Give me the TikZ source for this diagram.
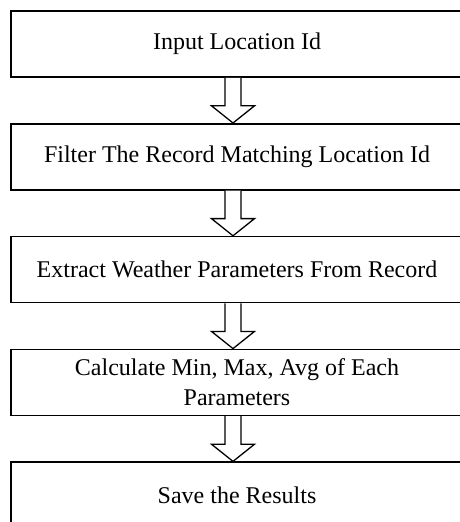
\documentclass[tikz,border=0pt]{standalone}
\usepackage{fontspec}
\setmainfont{Liberation Serif}
\usetikzlibrary{positioning,calc}
\begin{document}
\begin{tikzpicture}
    [stepbox/.style={draw=black,line width=1.6pt,minimum width=452pt,minimum height=66pt,
       inner sep=3pt,align=center,font=\fontsize{24}{30}\selectfont},
     hollow/.style={draw=black,line width=1.3pt,fill=white,line join=miter},
     node distance=45.2pt]
    \useasboundingbox (0,0) rectangle (460pt,-522pt);
    \node [stepbox] (input) at (237pt,-44pt) {Input Location Id};
    \node [stepbox,below=of input] (filter) {Filter The Record Matching Location Id};
    \node [stepbox,below=of filter] (extract) {Extract Weather Parameters From Record};
    \node [stepbox,below=of extract] (calc) {Calculate Min, Max, Avg of Each\\Parameters};
    \node [stepbox,below=of calc] (save) {Save the Results};
    % hollow block arrows between the steps
    \foreach \from/\to in {input/filter,filter/extract,extract/calc,calc/save}
      \draw [hollow] ($(\from.south)+(-12pt,0)$)
        -- ($(\from.south)!0.62!(\to.north)+(-12pt,0)$) -- ++(-13.5pt,0)
        -- ($(\to.north)+(-4pt,0)$)
        -- ($(\from.south)!0.62!(\to.north)+(17.5pt,0)$) -- ++(-13.5pt,0)
        -- ($(\from.south)+(4pt,0)$);
  \end{tikzpicture}
\end{document}
